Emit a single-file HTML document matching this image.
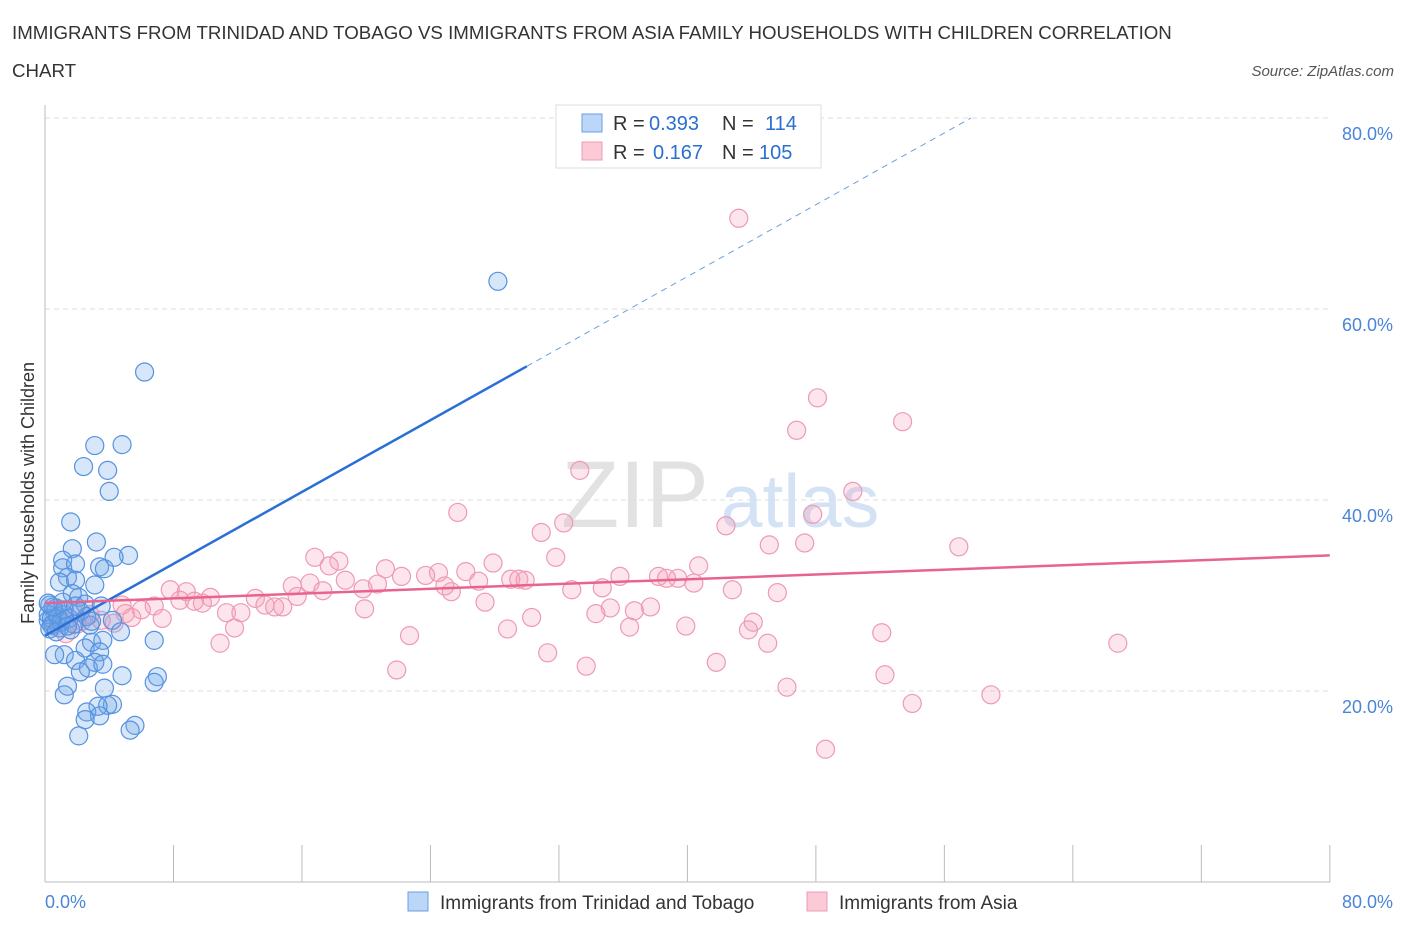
<!DOCTYPE html>
<html><head><meta charset="utf-8"><style>
body{margin:0;background:#fff;font-family:"Liberation Sans",sans-serif;}
svg text{font-family:"Liberation Sans",sans-serif;}
</style></head><body>
<svg width="1406" height="930" xmlns="http://www.w3.org/2000/svg">
<text x="12" y="39" font-size="18.7" fill="#333">IMMIGRANTS FROM TRINIDAD AND TOBAGO VS IMMIGRANTS FROM ASIA FAMILY HOUSEHOLDS WITH CHILDREN CORRELATION</text>
<text x="12" y="77" font-size="18.7" fill="#333">CHART</text>
<text x="1394" y="76" font-size="15" fill="#555" font-style="italic" text-anchor="end">Source: ZipAtlas.com</text>
<g>
<text x="635" y="527" font-size="95" fill="#e2e2e2" font-family="Liberation Serif" text-anchor="middle">ZIP</text>
<text x="800" y="527" font-size="75" fill="#d3e2f5" text-anchor="middle">atlas</text>
</g>
<g id="grid"></g>
<g id="axes"></g>
<g id="marks"></g>
<g>
<rect x="556" y="105" width="265" height="63" fill="#fff" stroke="#ddd"/>
<rect x="582" y="114" width="20" height="18" fill="#bcd6f7" stroke="#6a9fe0"/>
<rect x="582" y="142" width="20" height="18" fill="#fcc9d6" stroke="#ec9cb4"/>
<text x="613" y="130" font-size="20" fill="#333">R =</text>
<text x="649" y="130" font-size="20" fill="#2b6fd0">0.393</text>
<text x="722" y="130" font-size="20" fill="#333">N =</text>
<text x="765" y="130" font-size="20" fill="#2b6fd0">114</text>
<text x="613" y="159" font-size="20" fill="#333">R =</text>
<text x="653" y="159" font-size="20" fill="#2b6fd0">0.167</text>
<text x="722" y="159" font-size="20" fill="#333">N =</text>
<text x="759" y="159" font-size="20" fill="#2b6fd0">105</text>
</g>
<g>
<rect x="408" y="892" width="20" height="19" fill="#bcd6f7" stroke="#6a9fe0"/>
<text x="440" y="909" font-size="19" fill="#333">Immigrants from Trinidad and Tobago</text>
<rect x="807" y="892" width="20" height="19" fill="#fcc9d6" stroke="#ec9cb4"/>
<text x="839" y="909" font-size="19" fill="#333">Immigrants from Asia</text>
</g>
<text transform="translate(34,493) rotate(-90)" font-size="18" fill="#333" text-anchor="middle">Family Households with Children</text>
</svg>
<script>
const yTicks=[20,40,60,80];
const xTickLabels=["0.0%","80.0%"];
const blueX=[28.2,6.2,3.1,4.8,2.4,3.9,4.0,1.6,3.2,1.7,5.2,4.3,1.1,1.1,1.9,3.4,3.7,1.4,0.9,1.9,3.1,2.1,1.7,0.3,0.7,2.5,3.5,0.6,1.2,0.2,0.4,0.9,1.6,2.8,4.2,4.7,6.8,2.9,3.6,2.5,3.4,1.2,0.6,1.9,3.1,2.7,3.6,2.2,4.8,7.0,6.8,1.4,3.7,1.2,4.2,3.9,3.3,2.6,3.4,2.5,5.6,5.3,2.1,0.2,0.4,0.5,0.8,1.0,1.2,1.5,0.3,0.7,1.8,2.2,2.6,0.5,1.1,1.9,0.2,1.4,2.9];
const blueY=[62.9,53.4,45.7,45.8,43.5,43.1,40.9,37.7,35.6,34.9,34.2,34.0,33.7,32.9,33.3,33.0,32.8,31.9,31.4,31.6,31.1,29.8,30.2,29.0,28.7,29.1,28.9,28.3,28.0,27.4,26.9,26.6,26.4,26.9,27.4,26.2,25.3,25.1,25.3,24.5,24.1,23.8,23.8,23.2,23.0,22.4,22.8,22.0,21.6,21.5,20.9,20.5,20.3,19.6,18.6,18.5,18.4,17.8,17.4,17.0,16.4,15.9,15.3,28.0,27.6,27.0,27.8,27.2,28.5,27.6,26.5,26.2,27.0,28.3,27.8,28.8,29.3,28.9,29.2,26.8,27.3];
const pinkX=[43.2,48.1,53.4,46.8,50.3,33.3,25.7,32.3,30.9,42.4,47.8,56.9,45.1,47.3,16.8,18.3,17.7,31.8,27.9,21.2,40.7,24.5,26.2,23.7,22.2,29.0,29.5,27.0,29.9,38.2,39.4,38.7,35.8,40.4,16.5,18.7,20.7,24.9,19.8,25.3,34.7,32.8,42.8,45.6,15.4,17.3,7.8,8.8,15.7,10.3,13.1,9.8,8.4,9.3,27.4,13.7,14.3,14.8,6.8,6.0,4.8,35.2,37.7,5.0,5.4,2.8,7.3,11.3,12.2,30.3,36.7,34.3,19.9,2.3,3.5,4.3,11.8,44.1,39.9,36.4,43.8,28.8,52.1,22.7,45.0,66.8,10.9,31.3,41.8,33.7,21.9,52.3,46.2,58.9,54.0,48.6,1.0,1.8,0.6,1.3,2.0];
const pinkY=[69.5,50.7,48.2,47.3,40.9,43.1,38.7,37.6,36.6,37.3,38.5,35.1,35.3,35.5,34.0,33.6,33.1,34.0,33.4,32.8,33.1,32.4,32.5,32.1,32.0,31.7,31.7,31.5,31.6,32.0,31.8,31.8,32.0,31.3,31.3,31.6,31.2,31.0,30.7,30.4,30.8,30.6,30.6,30.3,31.0,30.5,30.6,30.4,29.9,29.8,29.7,29.2,29.5,29.4,29.3,29.0,28.8,28.8,28.9,28.5,29.0,28.7,28.8,28.1,27.7,28.0,27.6,28.2,28.2,27.7,28.4,28.1,28.6,27.3,27.4,27.1,26.6,27.2,26.8,26.7,26.4,26.5,26.1,25.8,25.0,25.0,25.0,24.0,23.0,22.6,22.2,21.7,20.4,19.6,18.7,13.9,27.5,28.3,26.8,26.0,27.0];
const blueTrend=[25.8,54.0];  // at x=0 and x=30
const pinkTrend=[29.2,34.2];  // at x=0 and x=80
const NS="http://www.w3.org/2000/svg";
const sx=v=>45+v*16.06, sy=v=>882-v*9.55;
function mk(p,t,a){const e=document.createElementNS(NS,t);for(const k in a)e.setAttribute(k,a[k]);p.appendChild(e);return e;}
const grid=document.getElementById('grid'),axes=document.getElementById('axes'),marks=document.getElementById('marks');
yTicks.forEach(t=>{
 const l=mk(grid,'line',{x1:45,x2:1330,y1:sy(t),y2:sy(t),stroke:'#ddd','stroke-dasharray':'5,4'});
 
 
 const tx=mk(axes,'text',{x:1393,y:sy(t)+22,'font-size':18,fill:'#4a85d8','text-anchor':'end'});
 tx.textContent=t.toFixed(1)+'%';
 
 
});
const ax=mk(axes,'line',{x1:45,x2:1330,y1:882,y2:882,stroke:'#bbb'});


const ay=mk(axes,'line',{x1:45,x2:45,y1:105,y2:882,stroke:'#bbb'});


for(let i=0;i<=10;i++){const t=mk(axes,'line',{x1:sx(i*8),x2:sx(i*8),y1:845,y2:882,stroke:'#bbb'});
 
 }
[[0,'start',45],[80,'end',1393]].forEach((d,i)=>{const t=mk(axes,'text',{x:d[2],y:908,'font-size':18,fill:'#4a85d8','text-anchor':d[1]});t.textContent=xTickLabels[i];
 
 });
pinkX.forEach((x,i)=>{const c=mk(marks,'circle',{cx:sx(x),cy:sy(pinkY[i]),r:9,fill:'rgba(244,160,188,0.28)',stroke:'#ee9ab4','stroke-width':1.2});
 
 });
blueX.forEach((x,i)=>{const c=mk(marks,'circle',{cx:sx(x),cy:sy(blueY[i]),r:9,fill:'rgba(110,165,232,0.28)',stroke:'#5592e0','stroke-width':1.2});
 
 });
const slope=(blueTrend[1]-blueTrend[0])/30;
const xEnd=(80-blueTrend[0])/slope;
const bd=mk(marks,'line',{x1:sx(30),y1:sy(blueTrend[1]),x2:sx(xEnd),y2:sy(80),stroke:'#6a9fe0','stroke-width':1,'stroke-dasharray':'6,5'});


const bl=mk(marks,'line',{x1:sx(0),y1:sy(blueTrend[0]),x2:sx(30),y2:sy(blueTrend[1]),stroke:'#2b6fd6','stroke-width':2.5});


const pl=mk(marks,'line',{x1:sx(0),y1:sy(pinkTrend[0]),x2:sx(80),y2:sy(pinkTrend[1]),stroke:'#e8638e','stroke-width':2.5});


</script>
</body></html>
